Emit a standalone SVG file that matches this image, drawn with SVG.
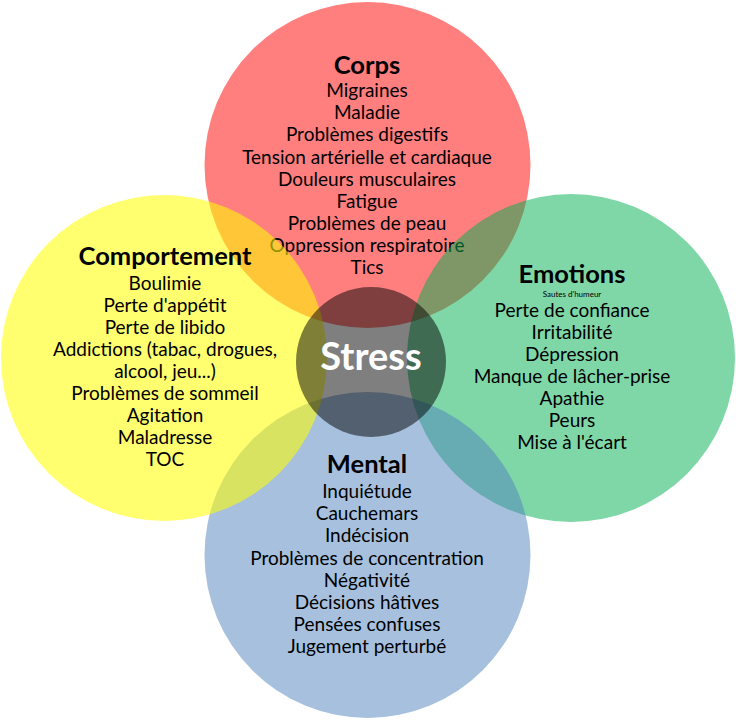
<svg xmlns="http://www.w3.org/2000/svg" width="736" height="720" viewBox="0 0 736 720">
<style>
.t{font-family:Lato,"Liberation Sans",sans-serif;font-size:19px;fill:#000;text-anchor:middle}
.h{font-family:Lato,"Liberation Sans",sans-serif;font-size:25.5px;font-weight:bold;fill:#000;text-anchor:middle}
.s{font-family:Lato,"Liberation Sans",sans-serif;font-size:8px;fill:#000;text-anchor:middle}
.st{font-family:Lato,"Liberation Sans",sans-serif;font-size:38px;font-weight:bold;fill:#fff;text-anchor:middle}
</style>
<rect width="736" height="720" fill="#fff"/>
<g id="corps">
<circle cx="367.5" cy="165" r="163" fill="#ff0000" fill-opacity="0.5"/>
<text class="h" x="367" y="74">Corps</text>
<text class="t" x="367" y="97">Migraines</text>
<text class="t" x="367" y="119">Maladie</text>
<text class="t" x="367" y="141">Problèmes digestifs</text>
<text class="t" x="367" y="164">Tension artérielle et cardiaque</text>
<text class="t" x="367" y="186">Douleurs musculaires</text>
<text class="t" x="367" y="208">Fatigue</text>
<text class="t" x="367" y="230">Problèmes de peau</text>
<text class="t" x="367" y="252">Oppression respiratoire</text>
<text class="t" x="367" y="274">Tics</text>
</g>
<g id="emotions">
<circle cx="571" cy="358" r="164" fill="#00b050" fill-opacity="0.5"/>
</g>
<g id="mental">
<circle cx="367.5" cy="555" r="163" fill="#4f81bd" fill-opacity="0.5"/>
</g>
<g id="comportement">
<circle cx="164" cy="358" r="163" fill="#ffff00" fill-opacity="0.56"/>
<text class="h" x="165" y="265">Comportement</text>
<text class="t" x="165" y="290">Boulimie</text>
<text class="t" x="165" y="312">Perte d'appétit</text>
<text class="t" x="165" y="334">Perte de libido</text>
<text class="t" x="165" y="356">Addictions (tabac, drogues,</text>
<text class="t" x="165" y="378">alcool, jeu...)</text>
<text class="t" x="165" y="400">Problèmes de sommeil</text>
<text class="t" x="165" y="422">Agitation</text>
<text class="t" x="165" y="444">Maladresse</text>
<text class="t" x="165" y="466">TOC</text>
</g>
<g id="emotions-text">
<text class="h" x="572" y="283">Emotions</text>
<text class="s" x="572" y="297">Sautes d'humeur</text>
<text class="t" x="572" y="317">Perte de confiance</text>
<text class="t" x="572" y="339">Irritabilité</text>
<text class="t" x="572" y="361">Dépression</text>
<text class="t" x="572" y="383">Manque de lâcher-prise</text>
<text class="t" x="572" y="405">Apathie</text>
<text class="t" x="572" y="427">Peurs</text>
<text class="t" x="572" y="449">Mise à l'écart</text>
</g>
<g id="mental-text">
<text class="h" x="367" y="473">Mental</text>
<text class="t" x="367" y="498">Inquiétude</text>
<text class="t" x="367" y="520">Cauchemars</text>
<text class="t" x="367" y="542">Indécision</text>
<text class="t" x="367" y="565">Problèmes de concentration</text>
<text class="t" x="367" y="587">Négativité</text>
<text class="t" x="367" y="609">Décisions hâtives</text>
<text class="t" x="367" y="631">Pensées confuses</text>
<text class="t" x="367" y="653">Jugement perturbé</text>
</g>
<g id="stress">
<circle cx="371" cy="362" r="75" fill="#000" fill-opacity="0.5"/>
<text class="st" x="371" y="370">Stress</text>
</g>
<g id="connectors"/>
</svg>
